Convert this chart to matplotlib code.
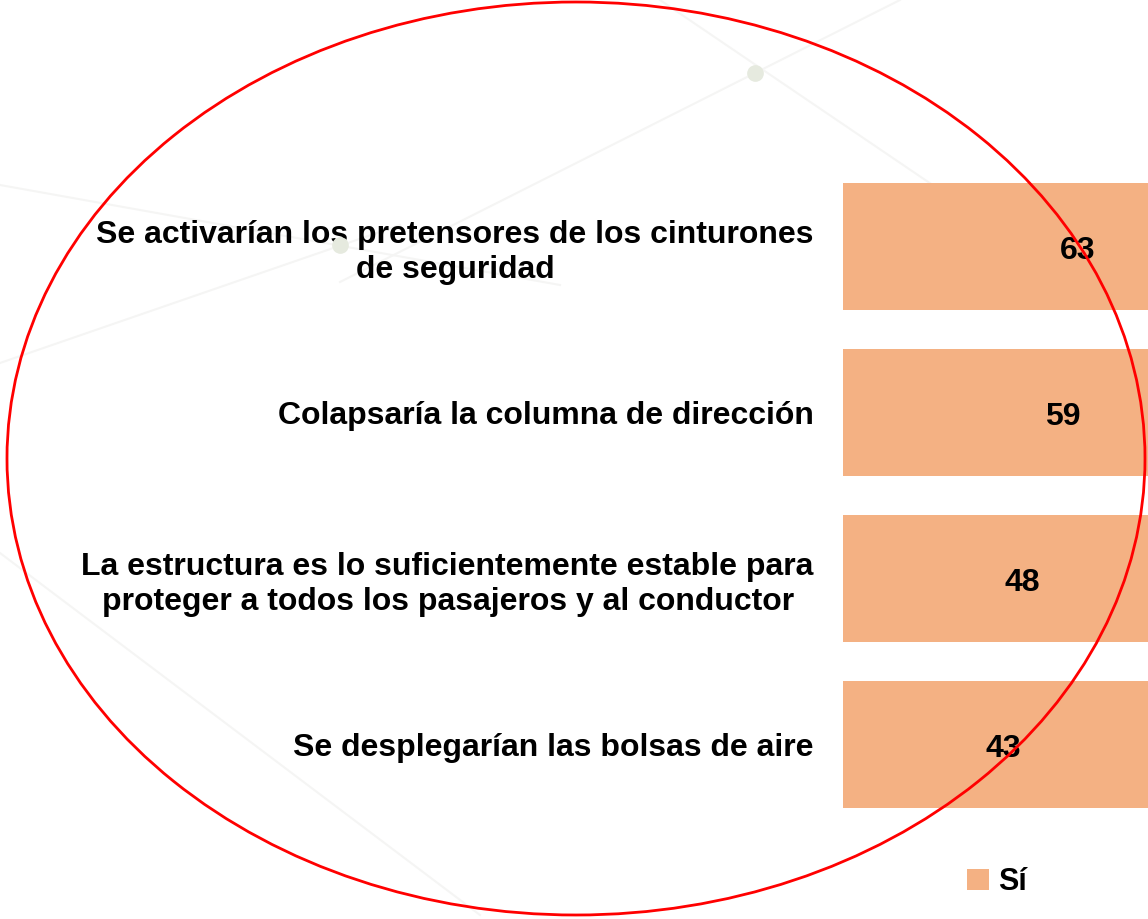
import matplotlib
matplotlib.use("Agg")
import matplotlib.pyplot as plt
from matplotlib.patches import Ellipse
from matplotlib.lines import Line2D

categories = [
    "Se activarían los pretensores de los cinturones\nde seguridad",
    "Colapsaría la columna de dirección",
    "La estructura es lo suficientemente estable para\nproteger a todos los pasajeros y al conductor",
    "Se desplegarían las bolsas de aire",
]
values_si = [63, 59, 48, 43]
series_name = "Sí"
bar_color = "#F4B183"

plt.rcParams['font.family'] = ['Liberation Sans', 'DejaVu Sans']

W, H = 1148, 919
fig = plt.figure(figsize=(W / 100, H / 100), dpi=100)
fig.patch.set_facecolor("white")

# faint decorative background lines (pixel coordinates -> figure fraction)
def px(x, y):
    return x / W, 1 - y / H

bg_lines = [
    ((660, 0), (940, 190)),
    ((340, 282), (900, 0)),
    ((0, 185), (560, 285)),
    ((0, 363), (400, 225)),
    ((0, 553), (480, 915)),
]
for (x0, y0), (x1, y1) in bg_lines:
    a = px(x0, y0); b = px(x1, y1)
    fig.add_artist(Line2D([a[0], b[0]], [a[1], b[1]], transform=fig.transFigure,
                          color="#f5f5f4", lw=1.5, zorder=0))
for (x, y) in [(755, 73), (340, 245)]:
    cx, cy = px(x, y)
    fig.add_artist(Line2D([cx], [cy], transform=fig.transFigure, marker="o",
                          markersize=11, color="#e6eadf", lw=0, zorder=0.5))

ax = fig.add_axes([843 / W, 1 - 827.5 / H, 746 / W, 664 / H])
ax.set_facecolor("none")
ypos = list(range(len(categories)))
bars = ax.barh(ypos, values_si, height=0.765, color=bar_color, label=series_name)
ax.set_xlim(0, 100)
ax.set_ylim(len(categories) - 0.5, -0.5)
ax.set_yticks(ypos)
ax.set_yticklabels(categories, fontsize=23, fontweight="bold", multialignment="center")
ax.tick_params(axis="y", length=0, pad=21)
ax.set_xticks([])
for s in ax.spines.values():
    s.set_visible(False)

for b, v in zip(bars, values_si):
    ax.annotate(str(v), (b.get_x() + b.get_width() / 2, b.get_y() + b.get_height() / 2),
                xytext=(0, -3), textcoords="offset points", ha="center", va="center",
                fontsize=23, fontweight="bold", color="black")

leg = fig.legend(handles=[bars], labels=[series_name], loc="center left",
                 bbox_to_anchor=(955 / W, 1 - 882 / H), frameon=False,
                 prop={"size": 22, "weight": "bold"}, handlelength=0.7,
                 handleheight=0.7, handletextpad=0.3, borderaxespad=0)

ell = Ellipse(((7 + 1145) / 2 / W, 1 - 458.5 / H), 1138 / W, 913 / H,
              transform=fig.transFigure, fill=False, edgecolor="#ff0000", lw=2, zorder=10)
fig.add_artist(ell)

fig.savefig("out.png", dpi=100)
